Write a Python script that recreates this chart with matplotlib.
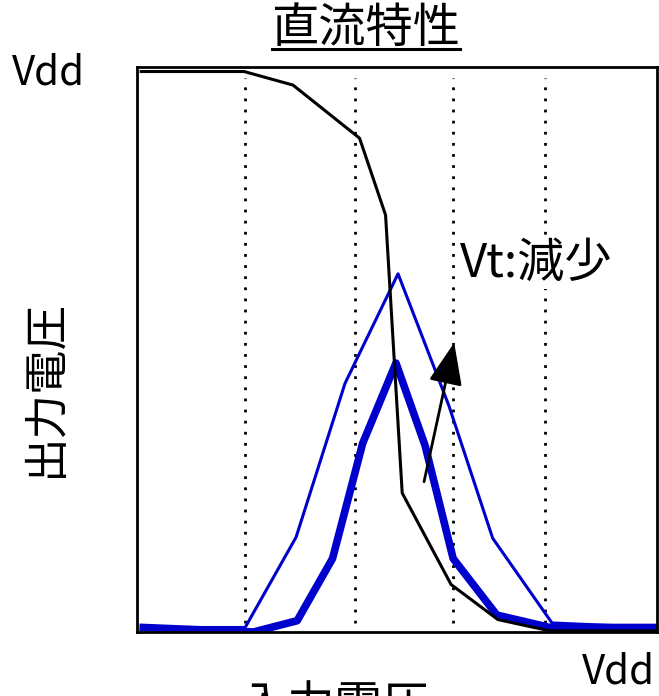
import matplotlib.pyplot as plt
from matplotlib.lines import Line2D

plt.rcParams['font.family'] = ['Noto Sans CJK JP', 'DejaVu Sans']

# input voltage (0..Vdd, Vdd = 5)
x_inv = [0.04, 1.03, 1.50, 2.14, 2.39, 2.55, 3.02, 3.47, 3.97, 5.0]
v_inv = [4.96, 4.96, 4.84, 4.37, 3.69, 1.23, 0.42, 0.11, 0.01, 0.01]

x_thin = [0.06, 1.04, 1.53, 2.00, 2.51, 3.00, 3.42, 3.99, 5.0]
v_thin = [0.04, 0.04, 0.84, 2.20, 3.17, 2.00, 0.83, 0.08, 0.04]

x_thick = [0.06, 1.12, 1.54, 1.88, 2.17, 2.49, 2.77, 3.04, 3.46, 3.97, 5.0]
v_thick = [0.04, 0.00, 0.10, 0.65, 1.67, 2.38, 1.65, 0.65, 0.15, 0.04, 0.04]

grid_x = [1.04, 2.10, 3.04, 3.92]

W, H = 659, 696
fig = plt.figure(figsize=(W / 100, H / 100), dpi=100)
ax = fig.add_axes([137 / W, 64 / H, 520 / W, 565 / H])
ax.set_xlim(0, 5)
ax.set_ylim(0, 5)
ax.set_xticks([])
ax.set_yticks([])
for s in ax.spines.values():
    s.set_linewidth(2)

for gx in grid_x:
    ax.plot([gx, gx], [0.08, 4.90], color='black', lw=2,
            linestyle=(0, (1, 3)), dash_capstyle='butt')

blue = '#0000cc'
ax.plot(x_thin, v_thin, color=blue, lw=2.2)
ax.plot(x_thick, v_thick, color=blue, lw=5.5)
ax.plot(x_inv, v_inv, color='black', lw=2.2)

ax.annotate('', xy=(3.05, 2.56), xytext=(2.76, 1.33),
            arrowprops=dict(arrowstyle='-|>,head_length=2.6,head_width=1.05',
                            mutation_scale=10, color='black', lw=2,
                            shrinkA=0, shrinkB=0))

ax.text(3.11, 3.26, 'Vt:減少', fontsize=34, ha='left', va='center',
        bbox=dict(facecolor='white', edgecolor='none', pad=1))

fig.text(366 / W, 1 - 29 / H, '直流特性', fontsize=34, ha='center', va='center')
fig.add_artist(Line2D([272 / W, 460 / W], [1 - 49 / H, 1 - 49 / H],
                      transform=fig.transFigure, color='black', lw=2.2))

fig.text(49 / W, 1 - 73 / H, 'Vdd', fontsize=29, ha='center', va='center')
fig.text(655 / W, 1 - 672 / H, 'Vdd', fontsize=29, ha='right', va='center')
fig.text(45 / W, 1 - 388 / H, '出力電圧', fontsize=32, rotation=90,
         ha='center', va='center')
fig.text(335 / W, 1 - 683 / H, '入力電圧', fontsize=34, ha='center', va='top')

fig.savefig('out.png', dpi=100)
